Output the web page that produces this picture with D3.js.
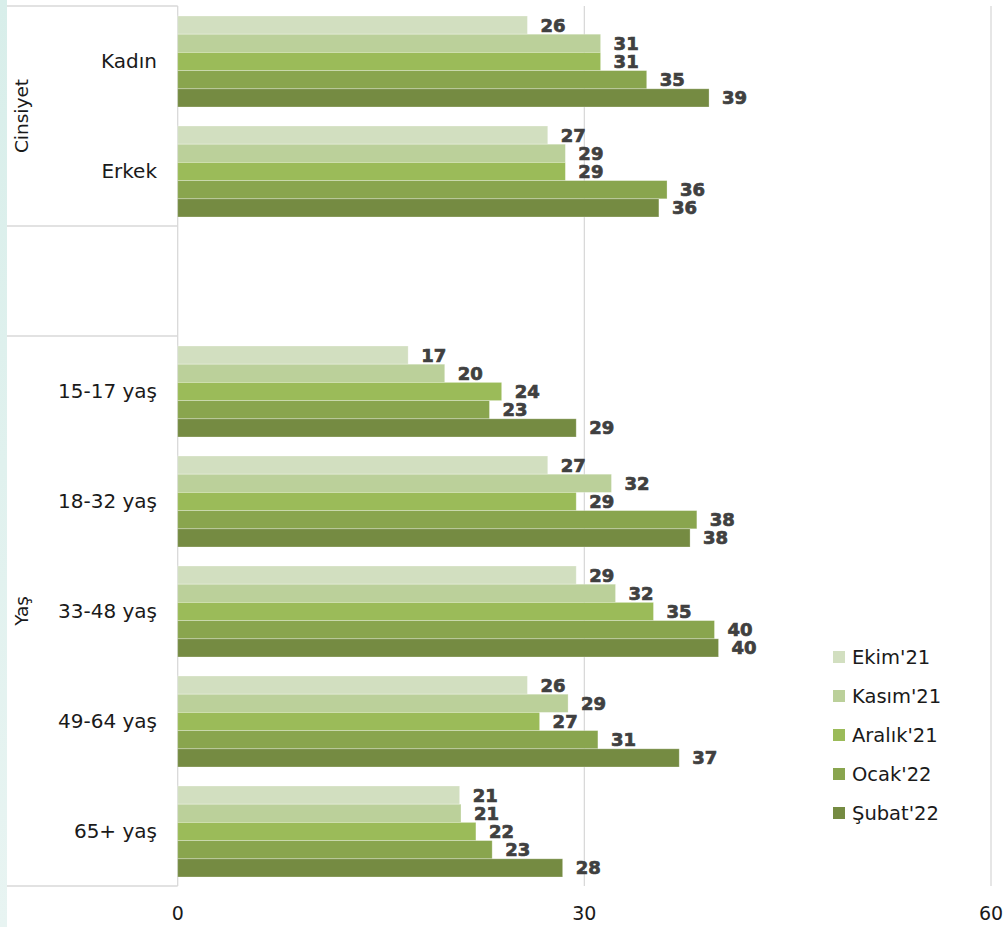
<!DOCTYPE html>
<html>
<head>
<meta charset="utf-8">
<script src="https://cdn.jsdelivr.net/npm/d3@7"></script>
<style>
  html, body { margin: 0; padding: 0; background: #ffffff; }
  svg { display: block; }
</style>
</head>
<body>
<svg id="chart" width="1004" height="927"></svg>
<script>
// ---- data ----
const categories = ["Kadın", "Erkek", "", "15-17 yaş", "18-32 yaş", "33-48 yaş", "49-64 yaş", "65+ yaş"];
const groupNames = ["Cinsiyet", "", "Yaş"];
const groupSizes = [2, 1, 5];
const seriesNames = ["Ekim'21", "Kasım'21", "Aralık'21", "Ocak'22", "Şubat'22"];
const ekim21   = [25.8, 27.3, null, 17.0, 27.3, 29.4, 25.8, 20.8];
const kasim21  = [31.2, 28.6, null, 19.7, 32.0, 32.3, 28.8, 20.9];
const aralik21 = [31.2, 28.6, null, 23.9, 29.4, 35.1, 26.7, 22.0];
const ocak22   = [34.6, 36.1, null, 23.0, 38.3, 39.6, 31.0, 23.2];
const subat22  = [39.2, 35.5, null, 29.4, 37.8, 39.9, 37.0, 28.4];
const xTicks = [0, 30, 60];
const colors = ["#d2dfc0", "#bbd09a", "#9bbb59", "#89a54e", "#758b42"];

const seriesValues = [ekim21, kasim21, aralik21, ocak22, subat22];

const svg = d3.select("#chart");

// left background strip
const defs = svg.append("defs");
const grad = defs.append("linearGradient").attr("id", "strip").attr("x1", 0).attr("x2", 0).attr("y1", 0).attr("y2", 1);
grad.append("stop").attr("offset", "0%").attr("stop-color", "#d8eeea");
grad.append("stop").attr("offset", "100%").attr("stop-color", "#e8f4f2");
svg.append("rect").attr("x", 0).attr("y", 0).attr("width", 7).attr("height", 927).attr("fill", "url(#strip)");

// scales
const x = d3.scaleLinear().domain([0, 60]).range([177.7, 991]);
const y = d3.scaleBand().domain(d3.range(categories.length)).range([6, 886]).padding(0);
const yInner = d3.scaleBand().domain(d3.range(seriesNames.length)).range([10, 101]).padding(0);

const gridColor = "#d9d9d9";

// gridlines
svg.append("g").selectAll("line").data(xTicks.filter(t => t > 0)).join("line")
  .attr("x1", d => x(d)).attr("x2", d => x(d))
  .attr("y1", 6).attr("y2", 886)
  .attr("stroke", gridColor).attr("stroke-width", 1.3);

// group frame lines
const boundaries = [0];
groupSizes.forEach((s, i) => boundaries.push(boundaries[i] + s));
svg.append("g").selectAll("line").data(boundaries).join("line")
  .attr("x1", 7).attr("x2", x(0))
  .attr("y1", d => d < categories.length ? y(d) : y.range()[1])
  .attr("y2", d => d < categories.length ? y(d) : y.range()[1])
  .attr("stroke", gridColor).attr("stroke-width", 1.3);
// axis line at zero
svg.append("line").attr("x1", x(0)).attr("x2", x(0)).attr("y1", 6).attr("y2", 886)
  .attr("stroke", gridColor).attr("stroke-width", 1.3);

// bars
const barData = [];
categories.forEach((c, ci) => {
  seriesValues.forEach((vals, si) => {
    if (vals[ci] != null) barData.push({ ci, si, v: vals[ci] });
  });
});

svg.append("g").selectAll("rect").data(barData).join("rect")
  .attr("x", x(0))
  .attr("y", d => y(d.ci) + yInner(d.si))
  .attr("width", d => x(d.v) - x(0))
  .attr("height", yInner.bandwidth())
  .attr("fill", d => colors[d.si])
  .attr("stroke", "#ffffff").attr("stroke-opacity", 0.35).attr("stroke-width", 0.8);

// value labels
svg.append("g").selectAll("text").data(barData).join("text")
  .attr("x", d => x(d.v) + 13)
  .attr("y", d => y(d.ci) + yInner(d.si) + yInner.bandwidth() / 2)
  .attr("dy", "0.36em")
  .attr("font-family", "DejaVu Sans, sans-serif")
  .attr("font-weight", "bold")
  .attr("font-size", 18)
  .attr("fill", "#404040")
  .attr("stroke", "#404040").attr("stroke-width", 0.7)
  .text(d => d3.format(".0f")(d.v));

// category labels
svg.append("g").selectAll("text").data(categories).join("text")
  .attr("x", 157)
  .attr("y", (d, i) => y(i) + y.bandwidth() / 2)
  .attr("dy", "0.36em")
  .attr("text-anchor", "end")
  .attr("font-family", "DejaVu Sans, sans-serif")
  .attr("font-size", 20)
  .attr("fill", "#1a1a1a")
  .text(d => d);

// group labels (rotated)
svg.append("g").selectAll("text").data(groupNames).join("text")
  .attr("transform", (d, i) => {
    const top = y(boundaries[i]);
    const bottom = boundaries[i + 1] < categories.length ? y(boundaries[i + 1]) : y.range()[1];
    return `translate(21,${(top + bottom) / 2}) rotate(-90)`;
  })
  .attr("dy", "0.36em")
  .attr("text-anchor", "middle")
  .attr("font-family", "DejaVu Sans, sans-serif")
  .attr("font-size", 18.5)
  .attr("fill", "#1a1a1a")
  .text(d => d);

// x tick labels
svg.append("g").selectAll("text").data(xTicks).join("text")
  .attr("x", d => x(d))
  .attr("y", 913)
  .attr("dy", "0.36em")
  .attr("text-anchor", "middle")
  .attr("font-family", "DejaVu Sans, sans-serif")
  .attr("font-size", 19)
  .attr("fill", "#1a1a1a")
  .text(d => d);

// legend
const legend = svg.append("g").selectAll("g").data(seriesNames).join("g")
  .attr("transform", (d, i) => `translate(833,${657 + i * 39})`);
legend.append("rect").attr("x", 0).attr("y", -6).attr("width", 12).attr("height", 12)
  .attr("fill", (d, i) => colors[i]);
legend.append("text").attr("x", 19).attr("y", 0).attr("dy", "0.36em")
  .attr("font-family", "DejaVu Sans, sans-serif")
  .attr("font-size", 19.5)
  .attr("fill", "#1a1a1a")
  .text(d => d);
</script>
</body>
</html>
